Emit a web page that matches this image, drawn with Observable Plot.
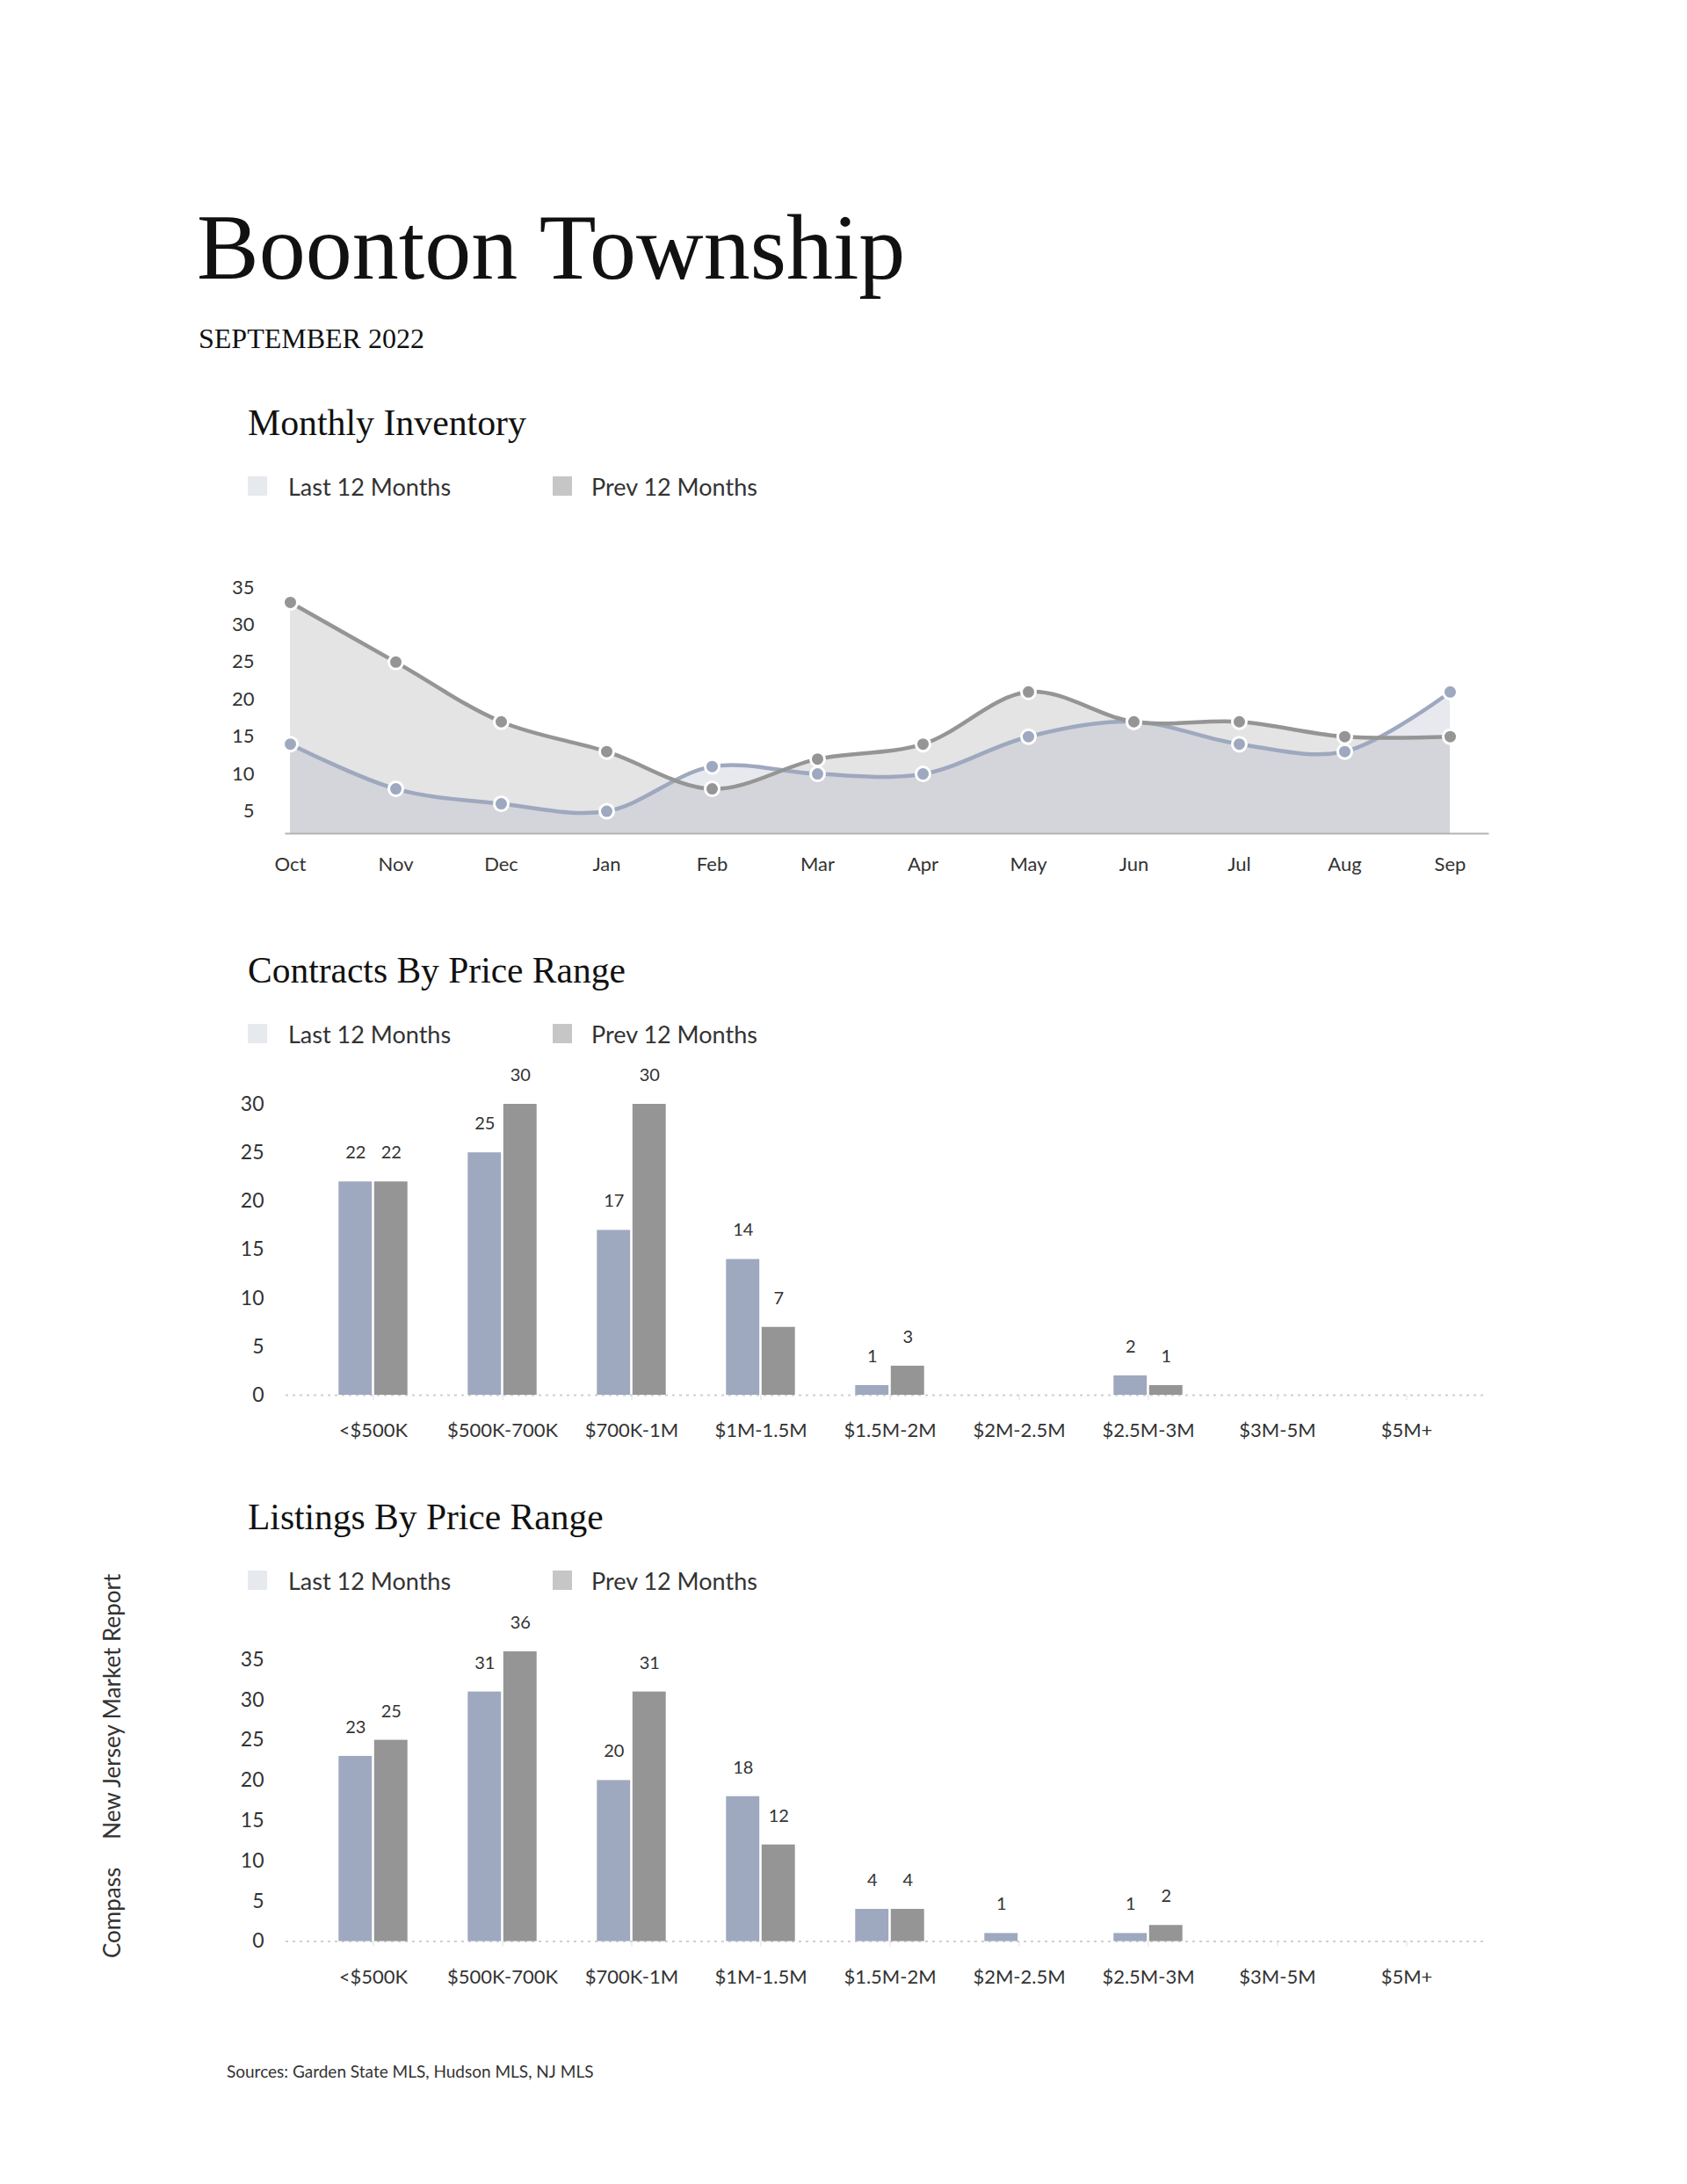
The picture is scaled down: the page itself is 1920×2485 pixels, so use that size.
<!DOCTYPE html>
<html>
<head>
<meta charset="utf-8">
<script src="https://cdn.jsdelivr.net/npm/d3@7"></script>
<script src="https://cdn.jsdelivr.net/npm/@observablehq/plot@0.6"></script>
<style>
  html, body { margin: 0; padding: 0; background: #fff; }
  body { width: 1920px; height: 2485px; position: relative; overflow: hidden; font-family: Lato, sans-serif; color: #222; }
  .abs { position: absolute; white-space: nowrap; }
  .serif { font-family: "Liberation Serif", "Times New Roman", serif; color: #111; line-height: 1; }
  .legend { position: absolute; left: 282px; height: 22px; display: flex; align-items: center; font-size: 27px; color: #333; }
  .sw { width: 22px; height: 22px; display: inline-block; }
  .chart { position: absolute; left: 0; }
</style>
</head>
<body>
<div class="abs serif" style="left:224px; top:229px; font-size:106px;">Boonton Township</div>
<div class="abs serif" style="left:226px; top:369px; font-size:32px;">SEPTEMBER 2022</div>

<div class="abs serif" style="left:282px; top:461px; font-size:41.8px;">Monthly Inventory</div>
<div class="legend" style="top:542px;">
  <span class="sw" style="background:#e6e9ee"></span><span style="margin-left:24px; width:301px;">Last 12 Months</span>
  <span class="sw" style="background:#c6c6c6"></span><span style="margin-left:22px;">Prev 12 Months</span>
</div>
<div id="inv" class="chart" style="top:600px;"></div>

<div class="abs serif" style="left:282px; top:1084px; font-size:41.5px;">Contracts By Price Range</div>
<div class="legend" style="top:1165px;">
  <span class="sw" style="background:#e6e9ee"></span><span style="margin-left:24px; width:301px;">Last 12 Months</span>
  <span class="sw" style="background:#c6c6c6"></span><span style="margin-left:22px;">Prev 12 Months</span>
</div>
<div id="con" class="chart" style="top:1200px;"></div>

<div class="abs serif" style="left:282px; top:1706px; font-size:41.5px;">Listings By Price Range</div>
<div class="legend" style="top:1787px;">
  <span class="sw" style="background:#e6e9ee"></span><span style="margin-left:24px; width:301px;">Last 12 Months</span>
  <span class="sw" style="background:#c6c6c6"></span><span style="margin-left:22px;">Prev 12 Months</span>
</div>
<div id="lis" class="chart" style="top:1822px;"></div>

<div class="abs" style="left:258px; top:2345px; font-size:19px; color:#333;">Sources: Garden State MLS, Hudson MLS, NJ MLS</div>

<div class="abs" style="left:0; top:0; font-size:26px; line-height:26px; color:#333; transform-origin:0 0; transform:translate(114px, 2228px) rotate(-90deg);"><span style="margin-right:32px;">Compass</span>New Jersey Market Report</div>

<script>
// ---- Data ----
const months = ["Oct","Nov","Dec","Jan","Feb","Mar","Apr","May","Jun","Jul","Aug","Sep"];
const inventoryLast = [14, 8, 6, 5, 11, 10, 10, 15, 17, 14, 13, 21];
const inventoryPrev = [33, 25, 17, 13, 8, 12, 14, 21, 17, 17, 15, 15];
const inventoryTicks = [5, 10, 15, 20, 25, 30, 35];

const priceRanges = ["<$500K","$500K-700K","$700K-1M","$1M-1.5M","$1.5M-2M","$2M-2.5M","$2.5M-3M","$3M-5M","$5M+"];
const contractsLast = [22, 25, 17, 14, 1, 0, 2, 0, 0];
const contractsPrev = [22, 30, 30, 7, 3, 0, 1, 0, 0];
const contractsTicks = [0, 5, 10, 15, 20, 25, 30];
const listingsLast = [23, 31, 20, 18, 4, 1, 1, 0, 0];
const listingsPrev = [25, 36, 31, 12, 4, 0, 2, 0, 0];
const listingsTicks = [0, 5, 10, 15, 20, 25, 30, 35];

const colorLast = "#9ea8bf";
const colorPrev = "#959595";

// ---- Inventory ----
const invLastRows = months.map((m, i) => ({month: m, value: inventoryLast[i]}));
const invPrevRows = months.map((m, i) => ({month: m, value: inventoryPrev[i]}));

const inv = Plot.plot({
  width: 1920, height: 400,
  marginTop: 68, marginBottom: 52, marginLeft: 325, marginRight: 227,
  style: {fontFamily: "Lato, sans-serif", color: "#333", background: "transparent", overflow: "visible"},
  x: {type: "point", domain: months, padding: 0, insetLeft: 3, insetRight: 41, label: null},
  y: {domain: [2, 35], label: null},
  marks: [
    Plot.areaY(invPrevRows, {x: "month", y: "value", curve: "catmull-rom", fill: colorPrev, fillOpacity: 0.25, clip: true}),
    Plot.areaY(invLastRows, {x: "month", y: "value", curve: "catmull-rom", fill: colorLast, fillOpacity: 0.25, clip: true}),
    Plot.frame({anchor: "bottom", stroke: "#b3b3b3", strokeWidth: 2}),
    Plot.lineY(invLastRows, {x: "month", y: "value", curve: "catmull-rom", stroke: colorLast, strokeWidth: 4.5}),
    Plot.lineY(invPrevRows, {x: "month", y: "value", curve: "catmull-rom", stroke: colorPrev, strokeWidth: 4.5}),
    Plot.dot(invLastRows, {x: "month", y: "value", r: 8, fill: colorLast, stroke: "white", strokeWidth: 3}),
    Plot.dot(invPrevRows, {x: "month", y: "value", r: 8, fill: colorPrev, stroke: "white", strokeWidth: 3}),
    Plot.axisY({ticks: inventoryTicks, tickSize: 0, tickPadding: 36, fontSize: 22, label: null}),
    Plot.axisX({tickSize: 0, tickPadding: 27, fontSize: 22, label: null})
  ]
});
document.getElementById("inv").append(inv);

// ---- Bar charts ----
function barChart(last, prev, yMax, ticks, marginTop, marginBottom) {
  const lastRows = priceRanges.map((r, i) => ({range: r, value: last[i]}));
  const prevRows = priceRanges.map((r, i) => ({range: r, value: prev[i]}));
  return Plot.plot({
    width: 1920, height: 460,
    marginTop, marginBottom, marginLeft: 325, marginRight: 227,
    style: {fontFamily: "Lato, sans-serif", color: "#333", background: "transparent", overflow: "visible"},
    x: {type: "band", domain: priceRanges, paddingInner: 0, paddingOuter: 0.155, insetRight: -6, label: null},
    y: {domain: [0, yMax], label: null},
    marks: [
      Plot.ruleY([0], {stroke: "#cfcfcf", strokeWidth: 2, strokeDasharray: "3,5"}),
      Plot.barY(lastRows, {x: "range", y: "value", fill: colorLast, insetLeft: 34.3, insetRight: 74.8}),
      Plot.barY(prevRows, {x: "range", y: "value", fill: colorPrev, insetLeft: 74.8, insetRight: 34.3}),
      Plot.text(lastRows.filter(d => d.value > 0), {x: "range", y: "value", text: d => String(d.value), dx: -20.25, dy: -33, fontSize: 20, fill: "#333"}),
      Plot.text(prevRows.filter(d => d.value > 0), {x: "range", y: "value", text: d => String(d.value), dx: 20.25, dy: -33, fontSize: 20, fill: "#333"}),
      Plot.axisY({ticks, tickSize: 0, tickPadding: 25, fontSize: 23, label: null}),
      Plot.axisX({tickSize: 6, tickPadding: 26, fontSize: 22, stroke: "#dddddd", fill: "#333", label: null})
    ]
  });
}

document.getElementById("con").append(barChart(contractsLast, contractsPrev, 30, contractsTicks, 56, 73));
document.getElementById("lis").append(barChart(listingsLast, listingsPrev, 35, listingsTicks, 66, 73.4));
</script>
</body>
</html>
